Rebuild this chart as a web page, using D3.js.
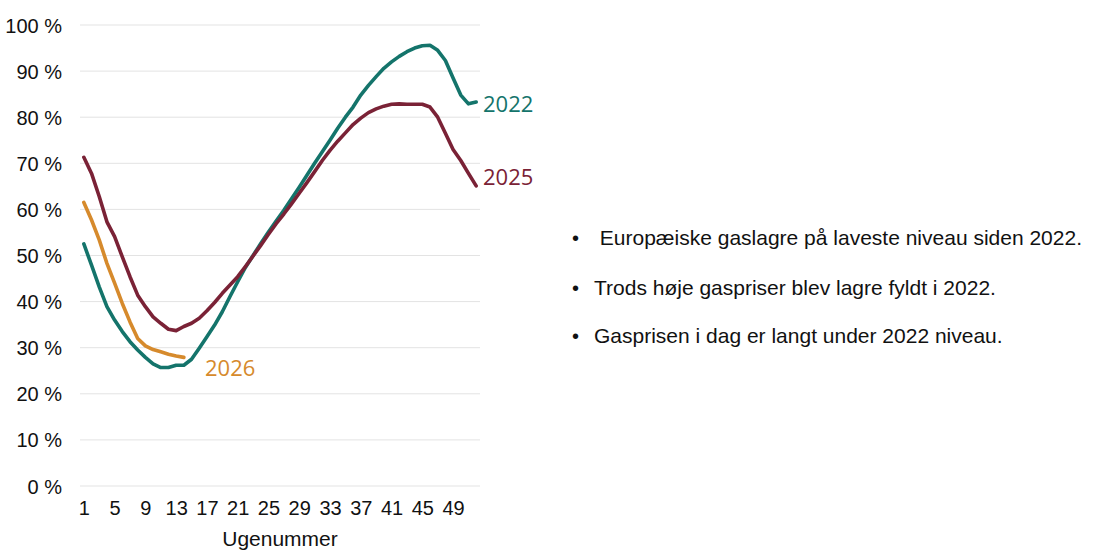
<!DOCTYPE html>
<html>
<head>
<meta charset="utf-8">
<script src="https://cdn.jsdelivr.net/npm/d3@7"></script>
<style>
  html, body { margin: 0; padding: 0; background: #ffffff; }
  svg { display: block; }
</style>
</head>
<body>
<svg id="chart" width="1120" height="558"></svg>
<script>
// ---- Data ----
const weeks = [1,2,3,4,5,6,7,8,9,10,11,12,13,14,15,16,17,18,19,20,21,22,23,24,25,26,
               27,28,29,30,31,32,33,34,35,36,37,38,39,40,41,42,43,44,45,46,47,48,49,50,51,52];
const xTickLabels = [1,5,9,13,17,21,25,29,33,37,41,45,49];
const yTickValues = [0,10,20,30,40,50,60,70,80,90,100];

const values2022 = [52.5,47.9,43.2,38.9,36.0,33.5,31.3,29.5,27.9,26.5,25.7,25.7,26.2,26.2,
                    27.5,29.9,32.4,34.9,37.8,41.1,44.3,47.4,50.0,52.6,55.1,57.5,59.8,62.3,
                    64.8,67.4,70.0,72.5,75.0,77.6,80.0,82.2,84.8,86.9,88.8,90.6,92.0,93.2,
                    94.2,95.0,95.5,95.6,94.5,92.3,88.5,84.8,82.9,83.3];
const values2025 = [71.3,67.8,62.8,57.3,54.1,49.7,45.4,41.4,38.9,36.7,35.3,34.0,33.7,34.6,
                    35.3,36.4,38.0,39.8,41.8,43.6,45.4,47.6,49.9,52.2,54.6,56.9,59.0,61.2,
                    63.5,65.8,68.2,70.6,72.8,74.8,76.6,78.4,79.8,81.0,81.8,82.4,82.8,82.9,
                    82.8,82.8,82.8,82.2,80.0,76.5,73.0,70.6,67.8,65.1];
const values2026 = [61.5,57.7,53.4,48.3,44.0,39.6,35.6,32.0,30.4,29.6,29.1,28.6,28.2,27.9];

const seriesNames = ["2022","2025","2026"];
const bullets = [
  " Europæiske gaslagre på laveste niveau siden 2022.",
  "Trods høje gaspriser blev lagre fyldt i 2022.",
  "Gasprisen i dag er langt under 2022 niveau."
];
const xTitle = "Ugenummer";

// ---- Layout ----
const svg = d3.select("#chart");
const colors = {"2022": "#14746b", "2025": "#7a2236", "2026": "#d68a2c"};
const axisFont = "'Liberation Sans', Arial, sans-serif";
const labelFont = "'Open Sans', 'Noto Sans', sans-serif";

const x = d3.scalePoint().domain(weeks).range([80, 480]).padding(0.5);
const y = d3.scaleLinear().domain([0, 100]).range([486, 25]);

// gridlines
svg.append("g").selectAll("line").data(yTickValues).join("line")
  .attr("x1", 80).attr("x2", 480)
  .attr("y1", d => y(d)).attr("y2", d => y(d))
  .attr("stroke", "#e3e3e3").attr("stroke-width", 1);

// y axis labels
const yAxis = d3.axisLeft(y).tickValues(yTickValues).tickSize(0).tickPadding(0)
  .tickFormat(d => d + " %");
const gy = svg.append("g").attr("transform", "translate(62,0)").call(yAxis);
gy.select(".domain").remove();
gy.selectAll("text").attr("font-family", axisFont).attr("font-size", 20)
  .attr("fill", "#111").attr("dy", "0.35em");

// x axis labels
const xAxis = d3.axisBottom(x).tickValues(xTickLabels).tickSize(0).tickPadding(0);
const gx = svg.append("g").attr("transform", "translate(0,496)").call(xAxis);
gx.select(".domain").remove();
gx.selectAll("text").attr("font-family", axisFont).attr("font-size", 20)
  .attr("fill", "#111").attr("dy", "0.95em");

svg.append("text").attr("x", 280).attr("y", 546).attr("text-anchor", "middle")
  .attr("font-family", axisFont).attr("font-size", 21).attr("fill", "#111")
  .text(xTitle);

// lines
const line = d3.line().x((d, i) => x(weeks[i])).y(d => y(d));
const seriesData = {"2022": values2022, "2025": values2025, "2026": values2026};
seriesNames.forEach(name => {
  svg.append("path").datum(seriesData[name])
    .attr("d", line)
    .attr("fill", "none")
    .attr("stroke", colors[name])
    .attr("stroke-width", 3.6)
    .attr("stroke-linejoin", "round")
    .attr("stroke-linecap", "round");
});

// series labels
const seriesLabelPos = {
  "2022": {x: 483, y: 111.5},
  "2025": {x: 483, y: 184.5},
  "2026": {x: 205, y: 376}
};
seriesNames.forEach(name => {
  svg.append("text")
    .attr("x", seriesLabelPos[name].x).attr("y", seriesLabelPos[name].y)
    .attr("font-family", labelFont).attr("font-size", 22)
    .attr("fill", colors[name])
    .text(name);
});

// bullets
const bulletY = [245, 295, 343];
const gb = svg.append("g");
bullets.forEach((t, i) => {
  gb.append("text").attr("x", 572).attr("y", bulletY[i])
    .attr("font-family", axisFont).attr("font-size", 20).attr("fill", "#111")
    .text("•");
  gb.append("text").attr("x", 594).attr("y", bulletY[i])
    .attr("font-family", axisFont).attr("font-size", 21).attr("fill", "#111")
    .attr("xml:space", "preserve").style("white-space", "pre")
    .text(t);
});
</script>
</body>
</html>
